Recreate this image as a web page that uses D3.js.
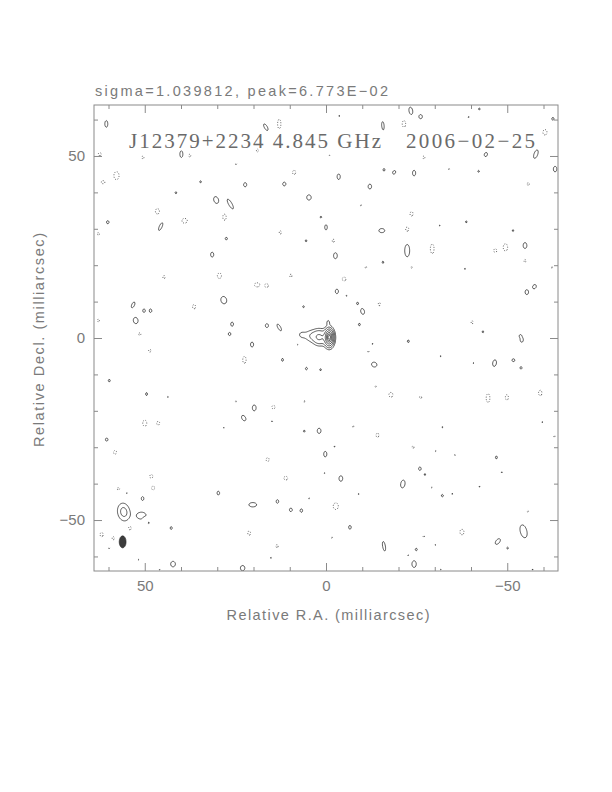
<!DOCTYPE html>
<html>
<head>
<meta charset="utf-8">
<script src="https://cdn.jsdelivr.net/npm/d3@7/dist/d3.min.js"></script>
<style>
  body { margin: 0; background: #fff; }
  svg { display: block; }
  .lbl { font-family: "Liberation Sans", "DejaVu Sans", sans-serif; fill: #7a7a7a; }
  .ttl { font-family: "Liberation Serif", "DejaVu Serif", serif; fill: #6a6a6a; }
</style>
</head>
<body>
<svg id="map" width="612" height="792"></svg>
<script>
// ---- data (milliarcsec, map units of the lowest contour) ----
var titleText = "sigma=1.039812, peak=6.773E\u221202";
var sourceText = "J12379+2234 4.845 GHz";
var dateText = "2006\u221202\u221225";
var xLabel = "Relative R.A. (milliarcsec)";
var yLabel = "Relative Decl. (milliarcsec)";
var majorTicks = [-50, 0, 50];
var minorTicks = [-60, -40, -30, -20, -10, 10, 20, 30, 40, 60];
var mapRange = [64, -64];

// contour levels (positive, doubling) and the single negative level
var levels = [0.95, 1.9, 3.8, 7.6, 15.2, 30.4, 60.8, 121.6];
var negLevel = 0.9;

// core + jet components: [ra, dec, peak, sx, sy, pa]
var core = [
  [-0.9, 0.2, 70, 0.25, 0.45, 0],
  [-0.9, 0.2, 25, 0.5, 0.9, 0],
  [-0.9, 0.1, 8, 0.85, 1.6, 0],
  [1.8, 0.2, 4, 1.2, 1.4, 0],
  [4.2, 0.6, 1.6, 1.3, 1.2, 0],
  [6.8, 0.9, 1.0, 0.9, 0.9, 0],
  [-0.6, 4.3, 1.2, 0.35, 0.6, 0]
];

// positive noise peaks: [ra, dec, peak, sx, sy, pa]
var posBlobs = [
  [60.6, 58.8, 1.6, 0.4, 0.9, 0], [16.6, 57.9, 1.6, 0.4, 1.0, 30], [39.9, 50.5, 1.6, 0.4, 0.9, 0],
  [34.6, 42.9, 1.2, 0.35, 0.45, 0], [22.3, 42.1, 1.5, 0.45, 0.6, 0], [11.5, 42.3, 1.5, 0.45, 0.55, 0],
  [41.4, 39.9, 1.2, 0.35, 0.45, 0], [30.3, 37.9, 1.7, 0.6, 0.9, 20], [26.4, 36.8, 1.6, 0.45, 1.5, 30],
  [4.7, 38.6, 1.6, 0.6, 0.7, 0], [60.2, 31.8, 1.4, 0.4, 0.5, 0], [45.6, 30.6, 1.5, 0.4, 1.2, -25],
  [1.4, 33.2, 1.2, 0.35, 0.4, 0], [27.5, 27.3, 1.3, 0.4, 0.45, 0], [5.5, 26.7, 1.2, 0.35, 0.4, 0],
  [31.4, 22.9, 1.5, 0.45, 0.7, 0], [6.0, 18.5, 1.1, 0.3, 0.35, 0], [28.2, 10.4, 1.8, 0.7, 0.9, 15],
  [53.2, 9.1, 1.5, 0.4, 0.9, -25], [50.2, 7.5, 1.4, 0.4, 0.55, 0], [48.4, 7.5, 1.4, 0.4, 0.55, 0],
  [6.2, 8.6, 1.2, 0.35, 0.4, 0], [52.5, 4.8, 1.7, 0.6, 0.8, 10], [25.9, 3.8, 1.5, 0.4, 0.6, 0],
  [16.3, 3.4, 1.5, 0.45, 0.55, 0], [12.9, 2.9, 1.5, 0.4, 1.1, 30], [26.6, 1.1, 1.4, 0.4, 0.5, 0],

  [-23.4, 62.4, 1.6, 0.5, 1.0, 10], [-26.1, 60.8, 1.5, 0.5, 0.6, 0], [-42.3, 62.9, 1.2, 0.35, 0.4, 0],
  [-15.7, 58.3, 1.5, 0.35, 1.2, 5], [-62.6, 60.2, 1.3, 0.4, 0.5, 0], [-3.7, 61.0, 1.1, 0.3, 0.35, 0],
  [-39.3, 60.7, 1.1, 0.3, 0.35, 0], [-44.1, 50.4, 1.5, 0.45, 0.6, -20], [-57.9, 50.5, 1.6, 0.5, 1.2, -20],
  [-63.2, 46.4, 1.5, 0.5, 0.8, 0], [-3.5, 44.3, 1.5, 0.45, 0.8, 0], [-16.0, 46.2, 1.3, 0.35, 0.45, 0],
  [-18.8, 45.5, 1.4, 0.45, 0.6, -30], [-24.3, 45.3, 1.5, 0.45, 0.8, 0], [-42.1, 45.8, 1.2, 0.35, 0.4, 0],
  [-12.1, 41.6, 1.5, 0.5, 0.7, 0], [0.0, 30.4, 1.4, 0.4, 0.8, 0], [-15.4, 29.5, 1.6, 0.8, 0.55, 0],
  [-31.3, 30.9, 1.1, 0.3, 0.35, 0], [-38.7, 31.9, 1.2, 0.35, 0.4, 0], [-51.6, 29.5, 1.2, 0.35, 0.4, 0],
  [-22.4, 24.0, 1.8, 0.6, 1.5, 0], [-54.9, 25.4, 1.6, 0.5, 0.8, 0], [-2.6, 22.6, 1.6, 0.5, 0.8, 0],
  [-15.7, 20.8, 1.2, 0.35, 0.45, 0], [-38.3, 19.0, 1.1, 0.3, 0.35, 0], [-3.0, 12.8, 1.5, 0.45, 0.65, 0],
  [-5.7, 11.6, 1.1, 0.3, 0.35, 0], [-8.7, 9.5, 1.3, 0.35, 0.45, 0], [-10.1, 7.3, 1.6, 0.5, 0.8, 15],
  [-55.4, 12.6, 1.5, 0.5, 0.7, 0], [-57.5, 14.1, 1.5, 0.5, 0.65, -30], [-9.2, 3.7, 1.3, 0.35, 0.45, 0],
  [-43.3, 1.7, 1.2, 0.35, 0.4, 0], [-53.6, 0.6, 1.2, 0.35, 0.4, 0],

  [20.4, -1.8, 1.5, 0.45, 0.7, 0], [12.0, -6.0, 1.3, 0.35, 0.5, 0], [5.4, -8.4, 1.3, 0.35, 0.45, 0],
  [1.5, -8.7, 1.2, 0.35, 0.4, 0], [59.8, -11.7, 1.3, 0.35, 0.45, 0], [58.0, -13.5, 1.1, 0.3, 0.35, 0],
  [49.5, -15.4, 1.3, 0.35, 0.5, 0], [43.6, -16.2, 1.1, 0.3, 0.3, 0], [19.8, -19.2, 1.6, 0.5, 0.8, 0],
  [22.7, -22.0, 1.6, 0.5, 0.8, 30], [14.9, -22.9, 1.1, 0.3, 0.35, 0], [6.0, -25.6, 1.2, 0.35, 0.4, 0],
  [1.9, -25.5, 1.6, 0.5, 0.7, 0], [28.2, -24.7, 1.1, 0.3, 0.3, 0], [60.5, -27.9, 1.4, 0.4, 0.5, 0],
  [0.2, -31.9, 1.5, 0.45, 0.8, 0], [29.7, -42.6, 1.4, 0.4, 0.6, 0], [50.6, -44.1, 1.4, 0.4, 0.6, 0],
  [20.2, -45.8, 1.7, 1.0, 0.55, 0], [13.4, -44.9, 1.4, 0.4, 0.55, 0], [9.7, -47.2, 1.4, 0.45, 0.55, 0],
  [6.8, -47.4, 1.4, 0.4, 0.55, 0], [55.8, -47.8, 2.4, 1.25, 1.8, 10], [50.9, -48.8, 1.5, 1.4, 1.0, 0],
  [48.9, -50.8, 1.1, 0.3, 0.3, 0], [42.7, -52.2, 1.3, 0.35, 0.5, 0], [15.2, -60.4, 1.1, 0.3, 0.35, 0],
  [42.2, -62.1, 1.7, 0.6, 0.7, 0], [23.0, -63.2, 1.6, 0.6, 0.7, 0], [45.9, -63.6, 1.1, 0.3, 0.3, 0],

  [-12.8, -1.6, 1.1, 0.3, 0.35, 0], [-22.7, -0.9, 1.3, 0.35, 0.45, 0], [-54.0, -0.5, 1.5, 0.45, 0.7, 0],
  [-13.3, -7.3, 1.7, 0.7, 0.6, -20], [-31.6, -5.0, 1.1, 0.3, 0.3, 0], [-40.7, -6.9, 1.1, 0.3, 0.3, 0],
  [-46.5, -6.9, 1.6, 0.5, 0.9, -10], [-51.7, -6.1, 1.4, 0.45, 0.45, 0], [-53.8, -8.2, 1.3, 0.35, 0.45, 0],
  [-32.1, -24.5, 1.1, 0.3, 0.35, 0], [-59.7, -23.1, 1.1, 0.3, 0.35, 0], [-2.3, -29.8, 1.1, 0.3, 0.35, 0],
  [-47.0, -32.8, 1.3, 0.35, 0.5, 0], [-51.0, -32.0, 1.1, 0.3, 0.35, 0], [-25.9, -35.9, 1.4, 0.4, 0.55, 0],
  [-27.3, -37.5, 1.2, 0.3, 0.4, 0], [-48.5, -36.9, 1.1, 0.3, 0.3, 0], [-4.1, -38.6, 1.6, 0.5, 0.75, 0],
  [-21.2, -40.1, 1.7, 0.55, 1.0, -10], [-9.0, -42.8, 1.1, 0.3, 0.3, 0], [-32.1, -43.3, 1.3, 0.35, 0.45, 0],
  [-34.8, -42.8, 1.1, 0.3, 0.35, 0], [-42.3, -40.8, 1.1, 0.3, 0.35, 0], [-6.6, -52.0, 1.4, 0.4, 0.6, 0],
  [-54.5, -53.1, 1.8, 0.8, 1.6, 15], [-47.4, -55.9, 1.6, 0.5, 0.9, -40], [-50.1, -57.7, 1.2, 0.35, 0.4, 0],
  [-16.0, -57.2, 1.5, 0.4, 1.4, 10], [-24.9, -58.1, 1.3, 0.35, 0.45, 0], [-22.7, -59.7, 1.1, 0.3, 0.3, 0],
  [-24.3, -62.1, 1.7, 0.55, 0.85, 0], [-30.2, -56.8, 1.1, 0.3, 0.3, 0], [-31.6, -63.6, 1.1, 0.3, 0.3, 0],
  [-57.0, -63.6, 1.1, 0.3, 0.3, 0]
];

// negative noise dips (depth given positive): [ra, dec, depth, sx, sy, pa]
var negBlobs = [
  [12.9, 58.8, 1.5, 0.45, 1.3, 0], [62.4, 50.5, 1.3, 0.5, 0.5, 0], [50.5, 49.6, 1.2, 0.4, 0.5, 0],
  [37.6, 50.1, 1.2, 0.4, 0.5, 0], [18.9, 51.5, 1.2, 0.4, 0.5, 0], [57.8, 44.6, 1.5, 0.7, 1.1, 0],
  [61.5, 42.8, 1.3, 0.6, 0.5, 0], [8.8, 45.5, 1.3, 0.5, 0.7, 0], [46.5, 34.8, 1.4, 0.6, 0.8, 0],
  [39.0, 32.2, 1.4, 0.8, 0.7, 0], [28.0, 33.2, 1.4, 0.5, 0.9, 0], [62.8, 28.6, 1.2, 0.4, 0.5, 0],
  [12.6, 29.0, 1.2, 0.4, 0.6, 0], [24.8, 47.8, 1.1, 0.3, 0.35, 0], [44.7, 16.7, 1.2, 0.4, 0.6, 0],
  [29.4, 17.1, 1.4, 0.6, 0.8, 0], [9.7, 17.1, 1.2, 0.4, 0.6, 0], [19.0, 14.6, 1.4, 0.8, 0.6, 0],
  [16.4, 14.4, 1.3, 0.6, 0.6, 0], [36.4, 8.6, 1.3, 0.5, 0.7, 0], [62.8, 4.8, 1.2, 0.4, 0.5, 0],
  [51.4, 1.1, 1.2, 0.5, 0.4, 0],

  [-21.5, 58.8, 1.4, 0.5, 1.0, 0], [-60.4, 56.5, 1.4, 0.6, 0.8, 0], [-0.9, 50.1, 1.1, 0.3, 0.3, 0],
  [-27.0, 49.6, 1.2, 0.4, 0.5, 0], [-33.9, 46.4, 1.1, 0.3, 0.4, 0], [-55.8, 42.3, 1.2, 0.4, 0.5, 0],
  [-9.6, 36.5, 1.1, 0.3, 0.35, 0], [-23.6, 34.1, 1.3, 0.5, 0.7, 0], [-22.4, 29.9, 1.3, 0.5, 0.7, 0],
  [-29.3, 24.5, 1.5, 0.5, 1.3, 0], [-49.5, 24.9, 1.5, 0.6, 1.0, 0], [-46.7, 24.0, 1.3, 0.5, 0.6, 0],
  [-2.0, 26.7, 1.2, 0.4, 0.6, 0], [-54.9, 21.2, 1.2, 0.4, 0.5, 0], [-11.0, 19.4, 1.1, 0.35, 0.4, 0],
  [-23.6, 19.4, 1.1, 0.35, 0.4, 0], [-5.0, 16.2, 1.3, 0.6, 0.6, 0], [-14.7, 9.3, 1.2, 0.4, 0.6, 0],
  [-40.3, 4.3, 1.2, 0.35, 0.6, 0], [-62.3, 19.4, 1.1, 0.35, 0.35, 0],

  [48.6, -3.5, 1.2, 0.45, 0.5, 0], [22.5, -6.0, 1.4, 0.5, 1.0, 0], [7.9, -1.8, 1.1, 0.3, 0.3, 0],
  [24.8, -17.4, 1.1, 0.3, 0.4, 0], [6.0, -17.4, 1.1, 0.3, 0.4, 0], [14.5, -19.0, 1.3, 0.5, 0.6, 0],
  [50.0, -23.4, 1.4, 0.6, 0.9, 0], [46.3, -23.4, 1.3, 0.5, 0.6, 0], [58.2, -31.4, 1.3, 0.5, 0.6, 0],
  [16.1, -33.4, 1.3, 0.5, 0.6, 0], [11.1, -38.5, 1.3, 0.6, 0.6, 0], [0.5, -37.1, 1.1, 0.3, 0.35, 0],
  [48.2, -38.0, 1.3, 0.5, 0.6, 0], [47.7, -41.2, 1.3, 0.5, 0.6, 0], [57.3, -41.4, 1.2, 0.5, 0.4, 0],
  [55.0, -42.6, 1.1, 0.35, 0.35, 0], [4.7, -44.0, 1.1, 0.3, 0.35, 0], [54.1, -52.2, 1.3, 0.5, 0.6, 0],
  [50.0, -49.9, 1.2, 0.4, 0.5, 0], [61.9, -54.0, 1.3, 0.5, 0.7, 0], [58.7, -55.0, 1.2, 0.4, 0.6, 0],
  [21.2, -53.6, 1.3, 0.45, 0.7, 0], [13.5, -57.2, 1.2, 0.4, 0.6, 0], [51.8, -60.9, 1.1, 0.3, 0.35, 0],
  [59.8, -57.7, 1.1, 0.3, 0.35, 0],

  [-11.7, -3.7, 1.1, 0.3, 0.4, 0], [-13.7, -13.3, 1.1, 0.3, 0.4, 0], [-17.9, -15.6, 1.4, 0.6, 0.7, 0],
  [-26.1, -16.3, 1.2, 0.45, 0.35, 0], [-44.7, -16.5, 1.5, 0.5, 1.2, 0], [-49.9, -16.3, 1.4, 0.45, 0.8, 0],
  [-59.1, -15.1, 1.4, 0.5, 0.8, 0], [-7.5, -24.3, 1.1, 0.3, 0.4, 0], [-14.2, -26.7, 1.3, 0.45, 0.7, 0],
  [-24.0, -30.0, 1.2, 0.4, 0.4, 0], [-30.2, -31.0, 1.1, 0.3, 0.3, 0], [-35.5, -32.2, 1.1, 0.3, 0.3, 0],
  [-63.0, -27.0, 1.1, 0.3, 0.4, 0], [-29.1, -41.0, 1.1, 0.3, 0.3, 0], [-2.7, -46.2, 1.5, 0.7, 0.9, 0],
  [-55.7, -47.6, 1.1, 0.3, 0.4, 0], [-1.6, -54.8, 1.1, 0.3, 0.35, 0], [-27.0, -54.5, 1.1, 0.35, 0.4, 0],
  [-37.5, -53.3, 1.4, 0.6, 0.8, 0]
];

// restoring beam: [ra, dec, major, minor, pa]
var beam = [[56.1, -56.0, 3.3, 1.9, 0]];

// ---- layout ----
var svg = d3.select("#map");
var frameL = 94, frameR = 558, frameT = 105, frameB = 571;

var x = d3.scaleLinear().domain(mapRange).range([frameL, frameR]);
var y = d3.scaleLinear().domain(mapRange).range([frameT, frameB]);

// ---- build map grid from the components ----
var step = 0.25;
var n = Math.round((mapRange[0] - mapRange[1]) / step);
var grid = new Float64Array(n * n);

function addComp(c, sign) {
  var ra = c[0], dec = c[1], amp = c[2] * sign, sx = c[3], sy = c[4];
  var pa = c[5] * Math.PI / 180, sp = Math.sin(pa), cp = Math.cos(pa);
  var r = 4.5 * Math.max(sx, sy);
  var i0 = Math.max(0, Math.floor((mapRange[0] - ra - r) / step));
  var i1 = Math.min(n - 1, Math.ceil((mapRange[0] - ra + r) / step));
  var j0 = Math.max(0, Math.floor((mapRange[0] - dec - r) / step));
  var j1 = Math.min(n - 1, Math.ceil((mapRange[0] - dec + r) / step));
  for (var j = j0; j <= j1; j++) {
    var dy = (mapRange[0] - (j + 0.5) * step) - dec;
    for (var i = i0; i <= i1; i++) {
      var dx = (mapRange[0] - (i + 0.5) * step) - ra;
      var a = dx * sp + dy * cp, b = dx * cp - dy * sp;
      grid[j * n + i] += amp * Math.exp(-0.5 * (a * a / (sy * sy) + b * b / (sx * sx)));
    }
  }
}
core.forEach(function(c) { addComp(c, 1); });
posBlobs.forEach(function(c) { addComp(c, 1); });
negBlobs.forEach(function(c) { addComp(c, -1); });

var negGrid = grid.map(function(v) { return -v; });

var proj = d3.geoTransform({
  point: function(px, py) {
    this.stream.point(x(mapRange[0] - px * step), y(mapRange[0] - py * step));
  }
});
var path = d3.geoPath(proj);

svg.append("clipPath").attr("id", "clip")
  .append("rect").attr("x", frameL).attr("y", frameT)
  .attr("width", frameR - frameL).attr("height", frameB - frameT);

var plot = svg.append("g").attr("clip-path", "url(#clip)");

var posContours = d3.contours().size([n, n]).thresholds(levels)(grid);
plot.selectAll(".pos").data(posContours).enter().append("path")
  .attr("class", "pos")
  .attr("d", path)
  .attr("fill", "none")
  .attr("stroke", "#222")
  .attr("stroke-width", 0.75);

var negContours = d3.contours().size([n, n]).thresholds([negLevel])(negGrid);
plot.selectAll(".neg").data(negContours).enter().append("path")
  .attr("class", "neg")
  .attr("d", path)
  .attr("fill", "none")
  .attr("stroke", "#4a4a4a")
  .attr("stroke-width", 0.9)
  .attr("stroke-dasharray", "1,1.6");

// beam
plot.selectAll(".beam").data(beam).enter().append("ellipse")
  .attr("class", "beam")
  .attr("cx", function(d) { return x(d[0]); })
  .attr("cy", function(d) { return y(d[1]); })
  .attr("rx", function(d) { return Math.abs(x(d[0] + d[3] / 2) - x(d[0])); })
  .attr("ry", function(d) { return Math.abs(y(d[1] + d[2] / 2) - y(d[1])); })
  .attr("transform", function(d) { return "rotate(" + (-d[4]) + "," + x(d[0]) + "," + y(d[1]) + ")"; })
  .attr("fill", "#3c3c3c")
  .attr("stroke", "#222")
  .attr("stroke-width", 0.6);

// ---- frame and ticks ----
svg.append("rect")
  .attr("x", frameL).attr("y", frameT)
  .attr("width", frameR - frameL).attr("height", frameB - frameT)
  .attr("fill", "none").attr("stroke", "#8a8a8a").attr("stroke-width", 1);

function fmt(d) { return d < 0 ? "\u2212" + Math.abs(d) : String(d); }

function tickAxes(axisFn, scale, transform, labels) {
  var gMaj = svg.append("g").attr("transform", transform)
    .call(axisFn(scale).tickValues(majorTicks).tickSize(-8).tickPadding(labels ? 9 : 0)
      .tickFormat(labels ? fmt : ""));
  var gMin = svg.append("g").attr("transform", transform)
    .call(axisFn(scale).tickValues(minorTicks).tickSize(-4).tickFormat(""));
  [gMaj, gMin].forEach(function(g) { g.select(".domain").remove(); });
  gMaj.selectAll("text").attr("class", "lbl").attr("font-size", 15).attr("fill", null);
}
tickAxes(d3.axisBottom, x, "translate(0," + frameB + ")", true);
tickAxes(d3.axisTop, x, "translate(0," + frameT + ")", false);
tickAxes(d3.axisLeft, y, "translate(" + frameL + ",0)", true);
tickAxes(d3.axisRight, y, "translate(" + frameR + ",0)", false);
svg.selectAll(".tick line").attr("stroke", "#8a8a8a");

// ---- texts ----
svg.append("text").attr("class", "lbl")
  .attr("x", 95).attr("y", 96).attr("font-size", 14.5)
  .attr("textLength", 293).attr("lengthAdjust", "spacing")
  .text(titleText);

svg.append("text").attr("class", "ttl")
  .attr("x", 129).attr("y", 148).attr("font-size", 21)
  .attr("textLength", 252).attr("lengthAdjust", "spacing")
  .text(sourceText);
svg.append("text").attr("class", "ttl")
  .attr("x", 406).attr("y", 148).attr("font-size", 21)
  .attr("textLength", 129).attr("lengthAdjust", "spacing")
  .text(dateText);

svg.append("text").attr("class", "lbl")
  .attr("x", 328).attr("y", 620).attr("font-size", 14.5)
  .attr("text-anchor", "middle")
  .attr("textLength", 203).attr("lengthAdjust", "spacing")
  .text(xLabel);

svg.append("text").attr("class", "lbl")
  .attr("transform", "translate(44,340) rotate(-90)")
  .attr("font-size", 14.5)
  .attr("text-anchor", "middle")
  .attr("textLength", 214).attr("lengthAdjust", "spacing")
  .text(yLabel);
</script>
</body>
</html>
